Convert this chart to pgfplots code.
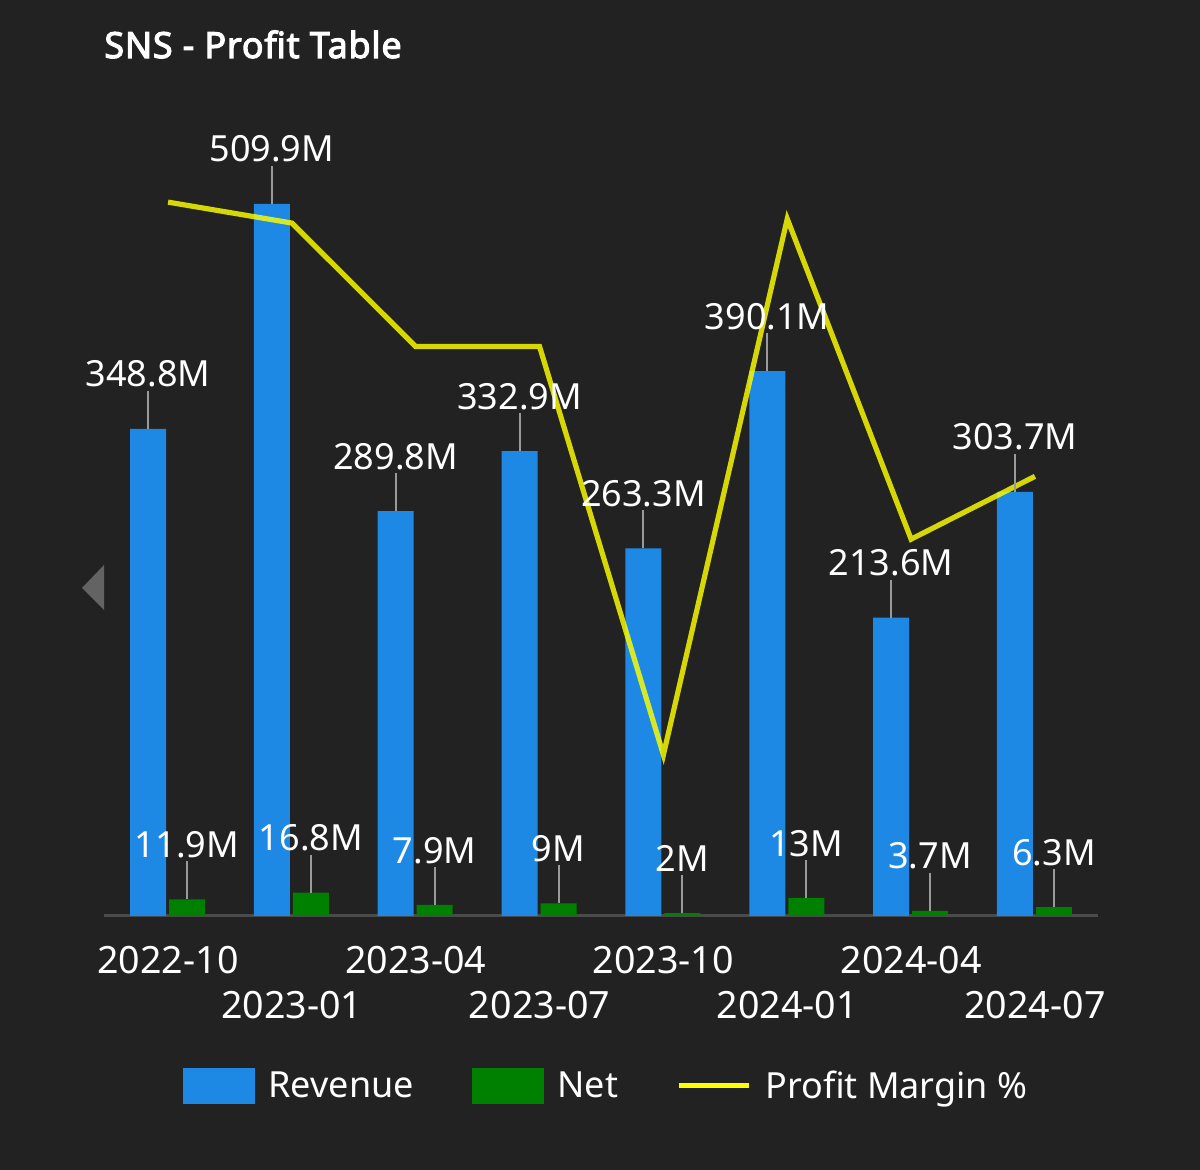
\documentclass[border=0pt]{standalone}
\usepackage{pgfplots}
\pgfplotsset{compat=1.18}
\usepackage{fontspec}
\setmainfont{Noto Sans}
\newfontfamily\titlefont{Noto Sans}[FakeBold=3, LetterSpace=2]
\definecolor{bg}{HTML}{222222}
\definecolor{revblue}{HTML}{1E88E5}
\definecolor{netgreen}{HTML}{008000}
\definecolor{lineyel}{HTML}{FFFF00}
\definecolor{axgray}{HTML}{4A4A4A}
\definecolor{leader}{HTML}{9A9A9A}
\begin{document}
\begin{tikzpicture}
\fill[bg] (-52pt,-127pt) rectangle (548pt,458pt);
\pgfplotsset{
  base/.style={
    scale only axis, width=497pt, height=419pt,
    xmin=-0.517, xmax=7.509,
    ymin=0, ymax=600,
    clip=false,
    /pgf/number format/assume math mode=true,
  },
}
% bars
\begin{axis}[base,
  ybar, bar width=18pt,
  axis x line=bottom, axis y line=none,
  axis line style={axgray, line width=1.5pt, -},
  xtick={0,...,7}, major tick length=0pt,
  xticklabels={2022-10,{\vphantom{0}\\2023-01},2023-04,{\vphantom{0}\\2023-07},2023-10,{\vphantom{0}\\2024-01},2024-04,{\vphantom{0}\\2024-07}},
  xticklabel style={text=white, align=center, font=\fontsize{18.8}{22.5}\selectfont, yshift=-11.5pt},
]
\addplot[fill=revblue, draw=none, bar shift=-10pt] coordinates {(0,348.8) (1,509.9) (2,289.8) (3,332.9) (4,263.3) (5,390.1) (6,213.6) (7,303.7)};
\addplot[fill=netgreen, draw=none, bar shift=9.5pt] coordinates {(0,11.9) (1,16.8) (2,7.9) (3,9) (4,2) (5,13) (6,3.7) (7,6.3)};
\end{axis}
% margin line
\begin{axis}[base, ymax=4.003, hide axis]
\addplot[lineyel, opacity=0.82, line width=2.6pt, line join=miter] coordinates {(0,3.41) (1,3.31) (2,2.72) (3,2.72) (4,0.77) (5,3.33) (6,1.80) (7,2.10)};
\end{axis}
% labels and leaders
\begin{axis}[base, hide axis,
  ybar, bar width=18pt,
  nodes near coords={\pgfmathprintnumber{\pgfplotspointmeta}M},
  every node near coord/.append style={text=white, anchor=south, yshift=19.5pt, inner sep=1pt, font=\fontsize{18}{20}\selectfont},
  legend style={at={(0.5,0)}, anchor=center, yshift=-85pt, xshift=3pt, draw=none, fill=none, text=white, font=\fontsize{18}{20}\selectfont,
    /tikz/every odd column/.append style={column sep=5pt},
    /tikz/every even column/.append style={column sep=27pt}},
  legend columns=3,
]
\addplot[forget plot, draw=none, fill=none, bar shift=-10pt,
  error bars/.cd, y dir=plus, y fixed=27.2, error mark=none, error bar style={leader, line width=1pt}]
  coordinates {(0,348.8) (1,509.9) (2,289.8) (3,332.9) (4,263.3) (5,390.1) (6,213.6) (7,303.7)};
\addplot[forget plot, draw=none, fill=none, bar shift=9.5pt,
  error bars/.cd, y dir=plus, y fixed=27.2, error mark=none, error bar style={leader, line width=1pt}]
  coordinates {(0,11.9) (1,16.8) (2,7.9) (3,9) (4,2) (5,13) (6,3.7) (7,6.3)};
\addlegendimage{legend image code/.code={\fill[revblue] (0pt,-8.75pt) rectangle (35.5pt,8.75pt);}}
\addlegendentry{Revenue}
\addlegendimage{legend image code/.code={\fill[netgreen] (0pt,-8.75pt) rectangle (35.5pt,8.75pt);}}
\addlegendentry{Net}
\addlegendimage{legend image code/.code={\draw[lineyel, line width=2.5pt] (0pt,0pt) -- (35pt,0pt);}}
\addlegendentry{Profit Margin \%}
\end{axis}
% title
\node[anchor=base west, text=white, inner sep=0pt, font=\fontsize{18}{20}\selectfont\titlefont] at (0pt,429pt) {SNS - Profit Table};
% navigation arrow
\fill[gray!70!bg] (0pt,175.5pt) -- (0pt,153pt) -- (-11pt,164pt) -- cycle;
\pgfresetboundingbox
\useasboundingbox (-52pt,-127pt) rectangle (548pt,458pt);
\end{tikzpicture}
\end{document}
